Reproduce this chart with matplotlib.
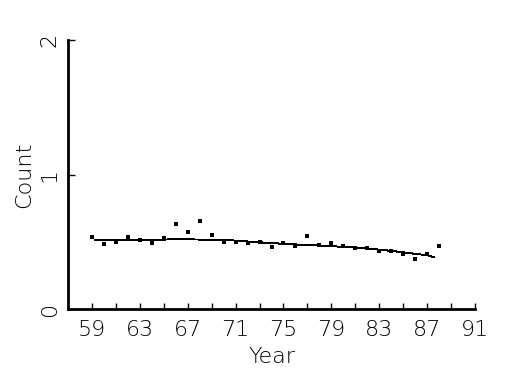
import matplotlib
matplotlib.use("Agg")
import matplotlib.pyplot as plt

years = list(range(59, 89))
counts = [0.533, 0.481, 0.500, 0.533, 0.511, 0.488, 0.530, 0.632, 0.570, 0.654,
          0.550, 0.500, 0.500, 0.488, 0.496, 0.459, 0.491, 0.471, 0.543, 0.478,
          0.488, 0.468, 0.451, 0.451, 0.429, 0.429, 0.409, 0.369, 0.409, 0.471]

fit_years = [59.25, 63.0, 66.0, 70.0, 72.0, 74.0, 76.0, 78.0, 80.0, 82.0, 84.0, 86.0, 87.0, 87.6]
fit_vals = [0.511, 0.513, 0.518, 0.515, 0.502, 0.490, 0.480, 0.472, 0.462, 0.450, 0.432, 0.410, 0.400, 0.385]

xticks = list(range(59, 92, 4))
xminor = list(range(59, 92, 2))
yticks = [0, 1, 2]

plt.rcParams['font.family'] = ['DejaVu Sans']
fig = plt.figure(figsize=(5.25, 3.75), dpi=100)
ax = fig.add_axes([68/525, 66/375, (475-68)/525, (309-40)/375])

ax.plot(fit_years, fit_vals, color='black', lw=0.7, antialiased=False)
ax.plot(years, counts, linestyle='none', marker='s', ms=2.6, color='black', mew=0)

ax.set_xlim(57, 91)
ax.set_ylim(0, 2)
ax.set_xticks(xticks)
ax.set_xticks(xminor, minor=True)
ax.set_yticks(yticks)
ax.set_yticklabels([str(v) for v in yticks], rotation=90, va='center')
ax.tick_params(axis='x', which='both', direction='in', length=4, width=1, pad=8, labelsize=16)
ax.tick_params(axis='y', direction='in', length=5, width=1, pad=6, labelsize=16)
for s in ['top', 'right']:
    ax.spines[s].set_visible(False)
for s in ['left', 'bottom']:
    ax.spines[s].set_linewidth(2)
ax.set_xlabel('Year', fontsize=16, labelpad=5, fontweight='light')
ax.set_ylabel('Count', fontsize=16, labelpad=4, fontweight='light')
for t in ax.get_xticklabels() + ax.get_yticklabels():
    t.set_fontweight('light')

fig.savefig('out.png', dpi=100, facecolor='white')
